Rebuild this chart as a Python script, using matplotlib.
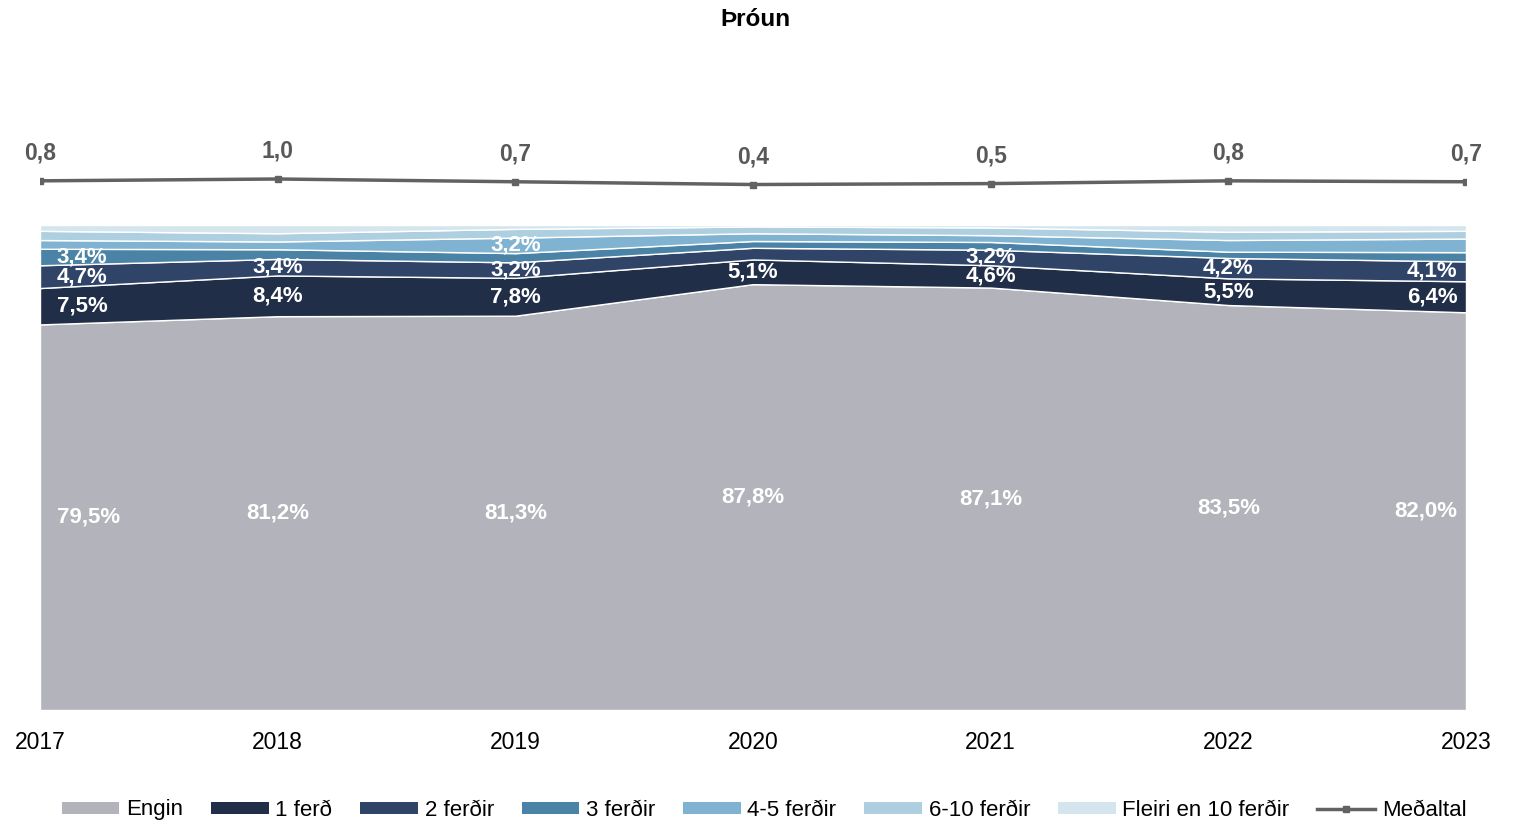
import matplotlib.pyplot as plt
from matplotlib.patches import Patch
from matplotlib.lines import Line2D

plt.rcParams['font.family'] = ['Liberation Sans', 'DejaVu Sans']

# Data
years = ["2017", "2018", "2019", "2020", "2021", "2022", "2023"]
engin = [79.5, 81.2, 81.3, 87.8, 87.1, 83.5, 82.0]
ferd_1 = [7.5, 8.4, 7.8, 5.1, 4.6, 5.5, 6.4]
ferd_2 = [4.7, 3.4, 3.2, 2.4, 3.2, 4.2, 4.1]
ferd_3 = [3.4, 2.0, 1.9, 1.4, 1.6, 1.3, 1.9]
ferd_4_5 = [1.8, 1.6, 3.2, 1.6, 1.4, 2.4, 2.8]
ferd_6_10 = [1.9, 1.7, 1.8, 1.4, 1.6, 1.7, 1.6]
ferd_10p = [1.2, 1.7, 0.8, 0.3, 0.5, 1.4, 1.2]
medaltal = [0.8, 1.0, 0.7, 0.4, 0.5, 0.8, 0.7]

series_names = ["Engin", "1 ferð", "2 ferðir", "3 ferðir", "4-5 ferðir", "6-10 ferðir", "Fleiri en 10 ferðir"]
series = [engin, ferd_1, ferd_2, ferd_3, ferd_4_5, ferd_6_10, ferd_10p]
colors = ["#B3B3BB", "#212E48", "#304468", "#4A83A6", "#80B3D1", "#AECFE0", "#D4E5EE"]
line_color = "#626262"

W, H = 1524, 825
fig = plt.figure(figsize=(W / 100, H / 100), dpi=100)
ax = fig.add_axes([40 / W, (H - 710) / H, (1466 - 40) / W, (710 - 140) / H])

x = list(range(len(years)))
ax.stackplot(x, *series, colors=colors, edgecolor="white", linewidth=1)
ax.set_xlim(0, len(years) - 1)
ax.set_ylim(0, (710 - 140) / 4.85)

for s in ax.spines.values():
    s.set_visible(False)
ax.set_yticks([])
ax.set_xticks(x)
ax.set_xticklabels(years, fontsize=16.5)
ax.tick_params(axis="x", length=0, pad=15)

# data labels (only the larger values)
lab_fs = 16
bottoms = [0] * len(years)
for vals in series:
    for i, v in enumerate(vals):
        yc = bottoms[i] + v / 2
        if v >= 3:
            txt = f"{v:.1f}%".replace(".", ",")
            if i == 0:
                ax.annotate(txt, (i, yc), xytext=(12, 0), textcoords="offset points",
                            ha="left", va="center", color="white", fontsize=lab_fs, fontweight="bold")
            elif i == len(years) - 1:
                ax.annotate(txt, (i, yc), xytext=(-6, 0), textcoords="offset points",
                            ha="right", va="center", color="white", fontsize=lab_fs, fontweight="bold")
            else:
                ax.text(i, yc, txt, ha="center", va="center", color="white",
                        fontsize=lab_fs, fontweight="bold")
    bottoms = [b + v for b, v in zip(bottoms, vals)]

# average line on secondary axis
ax2 = ax.twinx()
ax2.set_ylim((188.2 - 710) / 9.2, (188.2 - 140) / 9.2)
ax2.plot(x, medaltal, color=line_color, linewidth=2.5, marker="s", markersize=5)
ax2.set_axis_off()
for i, v in enumerate(medaltal):
    ax2.annotate(f"{v:.1f}".replace(".", ","), (i, v), xytext=(0, 20), textcoords="offset points",
                 ha="center", va="center", color="#595959", fontsize=16.5, fontweight="bold")

fig.text(755 / W, 1 - 19 / H, "Þróun", ha="center", va="center", fontsize=17.5, fontweight="bold")

handles = [Patch(facecolor=c, edgecolor="none") for c in colors]
handles.append(Line2D([0], [0], color=line_color, linewidth=2.5, marker="s", markersize=4))
fig.legend(handles, series_names + ["Meðaltal"], loc="center", bbox_to_anchor=(764 / W, 1 - 810 / H),
           ncol=8, frameon=False, handlelength=2.6, handleheight=0.45,
           columnspacing=1.25, handletextpad=0.3, fontsize=16)

fig.savefig("out.png", dpi=100)
